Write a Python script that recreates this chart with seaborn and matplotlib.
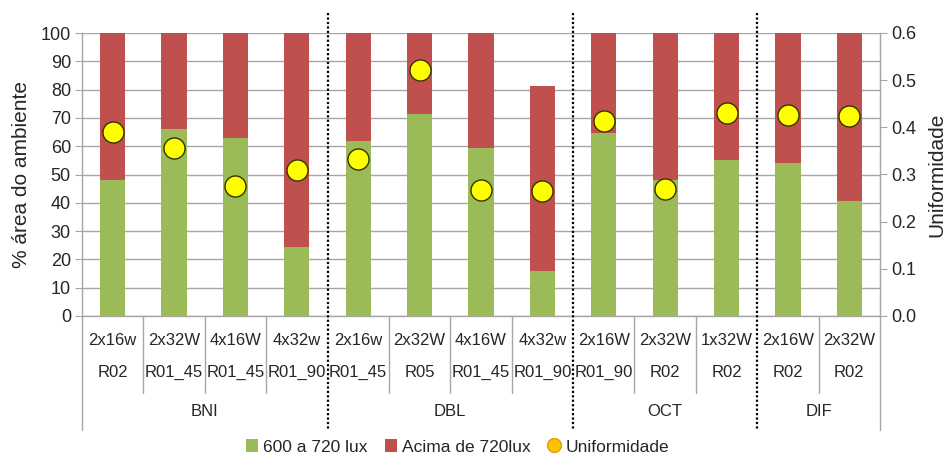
import numpy as np
import pandas as pd
import matplotlib
matplotlib.use("Agg")
import matplotlib.pyplot as plt
import seaborn as sns
from matplotlib.lines import Line2D
from matplotlib.patches import Patch
import matplotlib.transforms as mtransforms

# ---- data ----
lamps = ["2x16w", "2x32W", "4x16W", "4x32w", "2x16w", "2x32W", "4x16W", "4x32w",
         "2x16W", "2x32W", "1x32W", "2x16W", "2x32W"]
rooms = ["R02", "R01_45", "R01_45", "R01_90", "R01_45", "R05", "R01_45", "R01_90",
         "R01_90", "R02", "R02", "R02", "R02"]
groups = ["BNI", "DBL", "OCT", "DIF"]
group_sizes = [4, 4, 3, 2]
green_vals = [48.1, 66.1, 62.8, 24.5, 62.0, 71.4, 59.5, 15.9, 64.7, 48.1, 55.2, 54.1, 40.6]
red_vals = [51.9, 33.9, 37.2, 75.5, 38.0, 28.6, 40.5, 65.5, 35.3, 51.9, 44.8, 45.9, 59.4]
uniformity = [0.391, 0.356, 0.276, 0.310, 0.333, 0.522, 0.267, 0.265, 0.414, 0.269, 0.430, 0.427, 0.425]

GREEN = "#9BBB59"
RED = "#C0504D"
YELLOW = "#FFFF00"
GRID = "#A6A6A6"

sns.set_style("white")
plt.rcParams["font.family"] = ["Liberation Sans", "DejaVu Sans"]

n = len(lamps)
idx = np.arange(n)
df = pd.DataFrame({"idx": idx, "green": green_vals,
                   "total": np.array(green_vals) + np.array(red_vals),
                   "unif": uniformity})

fig = plt.figure(figsize=(9.49, 4.54), dpi=100)
H = 454.0
W = 949.0
ax = fig.add_axes([82 / W, (H - 316) / H, (880 - 82) / W, 283 / H])

sns.barplot(data=df, x="idx", y="total", color=RED, width=0.41, ax=ax,
            saturation=1, linewidth=0, order=list(idx))
sns.barplot(data=df, x="idx", y="green", color=GREEN, width=0.41, ax=ax,
            saturation=1, linewidth=0, order=list(idx))

TICK_FS = 13
CAT_FS = 12
ax.set_xlim(-0.5, n - 0.5)
ax.set_ylim(0, 100)
ax.set_yticks(np.arange(0, 101, 10))
ax.set_axisbelow(True)
ax.yaxis.grid(True, color=GRID, linewidth=1.0)
ax.set_xticks([])
ax.set_xlabel("")
ax.set_ylabel("% área do ambiente", fontsize=15, labelpad=7)
ax.tick_params(axis="y", labelsize=TICK_FS, length=5, color=GRID, direction="out", left=True, pad=3)
ax.spines["top"].set_visible(False)
for s in ["left", "right", "bottom"]:
    ax.spines[s].set_color(GRID)
    ax.spines[s].set_linewidth(1.0)

ax2 = ax.twinx()
sns.scatterplot(data=df, x="idx", y="unif", ax=ax2, s=230, color=YELLOW,
                edgecolor="#333300", linewidth=1.0, zorder=5, legend=False)
ax2.set_ylim(0, 0.6)
ax2.set_yticks(np.arange(0, 0.61, 0.1))
ax2.set_yticklabels([f"{v:.1f}" for v in np.arange(0, 0.61, 0.1)])
ax2.set_xlim(-0.5, n - 0.5)
ax2.set_ylabel("Uniformidade", fontsize=15, labelpad=8)
ax2.tick_params(axis="y", labelsize=TICK_FS, length=5, color=GRID, direction="out", right=True, pad=3)
ax2.set_xlabel("")
for s in ["top", "left", "bottom"]:
    ax2.spines[s].set_visible(False)
ax2.spines["right"].set_color(GRID)

trans = mtransforms.blended_transform_factory(ax.transData, ax.transAxes)

# category labels
for i in range(n):
    ax.text(i, -0.085, lamps[i], transform=trans, ha="center", va="center", fontsize=CAT_FS)
    ax.text(i, -0.198, rooms[i], transform=trans, ha="center", va="center", fontsize=CAT_FS)

# separators between categories
bounds = np.cumsum(group_sizes)
group_edges = [-0.5] + [b - 0.5 for b in bounds]
for i in range(n + 1):
    x = i - 0.5
    if x in group_edges:
        continue
    ax.plot([x, x], [0, -0.272], transform=trans, color=GRID, lw=1.0, clip_on=False)
for x in [-0.5, n - 0.5]:
    ax.plot([x, x], [0, -0.403], transform=trans, color=GRID, lw=1.0, clip_on=False)
for x in group_edges[1:-1]:
    ax.plot([x, x], [1.071, -0.403], transform=trans, color="black", lw=1.6,
            linestyle=(0, (1, 1)), clip_on=False, zorder=10)

start = 0
for g, sz in zip(groups, group_sizes):
    c = start + (sz - 1) / 2
    ax.text(c, -0.336, g, transform=trans, ha="center", va="center", fontsize=CAT_FS)
    start += sz

handles = [Patch(facecolor=GREEN, edgecolor="none"),
           Patch(facecolor=RED, edgecolor="none"),
           Line2D([], [], marker="o", linestyle="none", markerfacecolor="#FFC000",
                  markeredgecolor="#E0A000", markersize=10)]
fig.legend(handles, ["600 a 720 lux", "Acima de 720lux", "Uniformidade"],
           loc="center", bbox_to_anchor=(0.482, 1 - 447 / H), ncol=3, frameon=False,
           fontsize=12.5, handlelength=0.7, handleheight=0.7, handletextpad=0.3,
           columnspacing=1.0)

fig.savefig("out.png", dpi=100)
